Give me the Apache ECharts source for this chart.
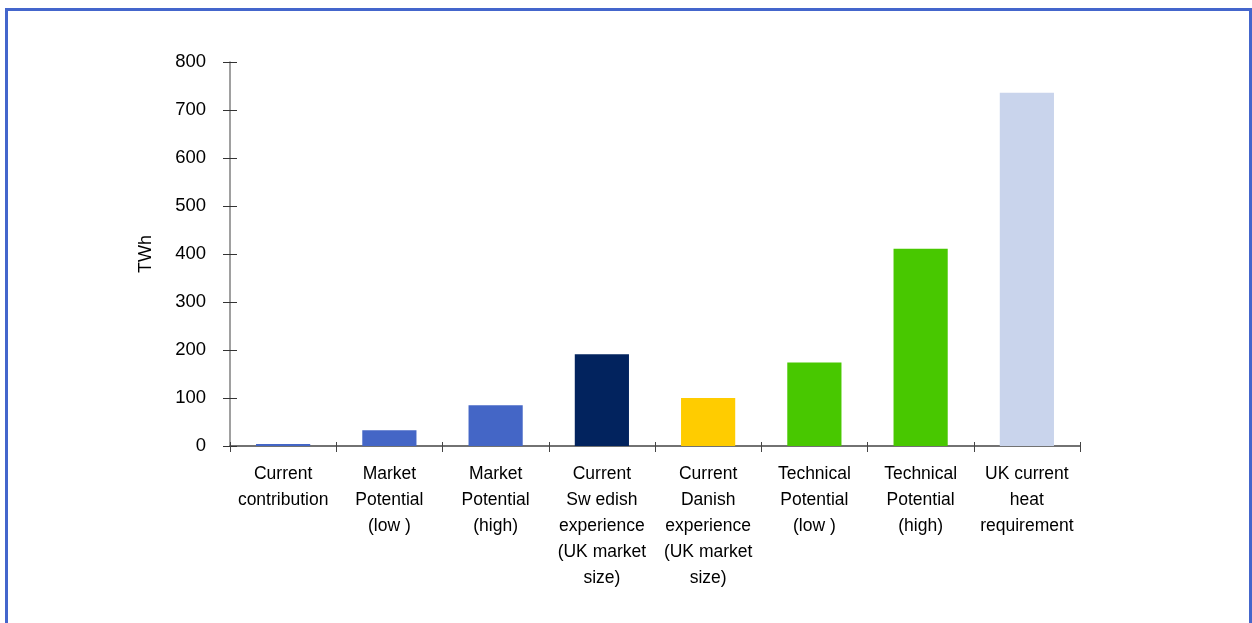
<!DOCTYPE html>
<html>
<head>
<meta charset="utf-8">
<script src="https://cdn.jsdelivr.net/npm/echarts@6/dist/echarts.min.js"></script>
<style>
html,body{margin:0;padding:0;background:#fff;overflow:hidden;}
#frame{position:absolute;left:5px;top:8px;width:1247px;height:700px;box-sizing:border-box;border:3px solid #4466CC;}
#chart{position:absolute;left:0;top:0;width:1252px;height:623px;}
</style>
</head>
<body>
<div id="frame"></div>
<div id="chart"></div>
<script>
const categories = [
  "Current\ncontribution",
  "Market\nPotential\n(low )",
  "Market\nPotential\n(high)",
  "Current\nSw edish\nexperience\n(UK market\nsize)",
  "Current\nDanish\nexperience\n(UK market\nsize)",
  "Technical\nPotential\n(low )",
  "Technical\nPotential\n(high)",
  "UK current\nheat\nrequirement"
];
const values = [4, 33, 85, 191, 100, 174, 411, 736];
const barColors = ["#4466C6", "#4466C6", "#4466C6", "#02235E", "#FFCC00", "#48C800", "#48C800", "#C9D4EC"];
const yTicks = [0, 100, 200, 300, 400, 500, 600, 700, 800];

const font = "'Liberation Sans', Arial, sans-serif";
const chart = echarts.init(document.getElementById('chart'), null, {renderer: 'canvas'});
chart.setOption({
  animation: false,
  grid: {left: 230, right: 172, top: 62, bottom: 177},
  xAxis: [{
    type: 'category',
    data: categories,
    axisLine: {lineStyle: {color: '#444', width: 1.5}},
    axisTick: {show: true, length: 6, lineStyle: {color: '#444'}},
    axisLabel: {color: '#000', fontFamily: font, fontSize: 17.5, lineHeight: 26, margin: 15, interval: 0}
  }, {
    type: 'category',
    data: categories,
    position: 'bottom',
    axisLine: {show: false},
    axisTick: {show: true, inside: true, length: 4, lineStyle: {color: '#444'}},
    axisLabel: {show: false}
  }],
  yAxis: [{
    type: 'value',
    min: yTicks[0],
    max: yTicks[yTicks.length - 1],
    interval: 100,
    name: 'TWh',
    nameLocation: 'middle',
    nameGap: 75,
    nameRotate: 90,
    nameTextStyle: {color: '#000', fontFamily: font, fontSize: 18},
    splitLine: {show: false},
    axisLine: {show: true, lineStyle: {color: '#808080', width: 1.5}},
    axisTick: {show: true, length: 7, lineStyle: {color: '#333'}},
    axisLabel: {color: '#000', fontFamily: font, fontSize: 18.5, margin: 24}
  }, {
    type: 'value',
    min: yTicks[0],
    max: yTicks[yTicks.length - 1],
    interval: 100,
    position: 'left',
    splitLine: {show: false},
    axisLine: {show: false},
    axisTick: {show: true, inside: true, length: 7, lineStyle: {color: '#333'}},
    axisLabel: {show: false}
  }],
  series: [{
    type: 'bar',
    data: values.map((v, i) => ({value: v, itemStyle: {color: barColors[i]}})),
    barWidth: '51%'
  }]
});
</script>
</body>
</html>
